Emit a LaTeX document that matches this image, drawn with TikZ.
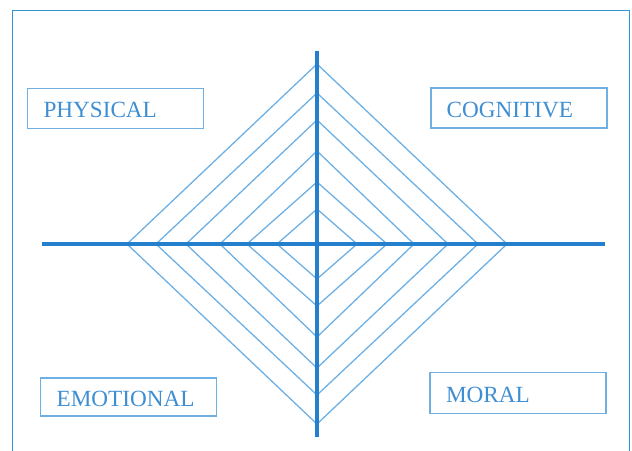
\documentclass[tikz,border=0pt]{standalone}
\usepackage{fontspec}
\setmainfont{Liberation Serif}
\definecolor{axisblue}{RGB}{36,128,204}
\definecolor{lineblue}{RGB}{110,176,228}
\definecolor{textblue}{RGB}{62,142,210}
\definecolor{frameblue}{RGB}{52,146,214}
\tikzset{
  diam/.style={draw=lineblue, line width=1.3pt},
  axisline/.style={draw=axisblue, line width=4.8pt},
  labelbox/.style={draw=lineblue, line width=1.6pt, rectangle, minimum height=40pt,
    text width=144pt, inner xsep=16pt, inner ysep=0pt, align=left,
    text height=19pt, text depth=0pt, text=textblue,
    font=\fontsize{23.2}{26}\selectfont},
}
\begin{document}
\begin{tikzpicture}[x=1pt,y=-1pt]
\useasboundingbox (0,0) rectangle (632,450);
% outer frame
\draw[frameblue, line width=1pt] (12,452) -- (12,10) -- (629,10) -- (629,452);
% diamonds
\foreach \w/\h in {190/180, 161/151, 131/124, 97/93, 70/62, 40/35}{
  \draw[diam] (317-\w,244) -- (317,244-\h) -- (317+\w,244) -- (317,244+\h) -- cycle;
}
% axes
\coordinate (hl) at (42,244);
\coordinate (hr) at (605,244);
\coordinate (vt) at (317,50.5);
\coordinate (vb) at (317,437);
\draw[axisline] (hl) -- (hr);
\draw[axisline] (vt) -- (vb);
% labels
\node[labelbox] (physical) at (115.5,108.4) {PHYSICAL};
\node[labelbox] (cognitive) at (518.7,108) {COGNITIVE};
\node[labelbox, minimum height=38pt] (emotional) at (128.6,396.8) {EMOTIONAL};
\node[labelbox, minimum height=41pt] (moral) at (518.1,392.8) {MORAL};
\end{tikzpicture}
\end{document}
